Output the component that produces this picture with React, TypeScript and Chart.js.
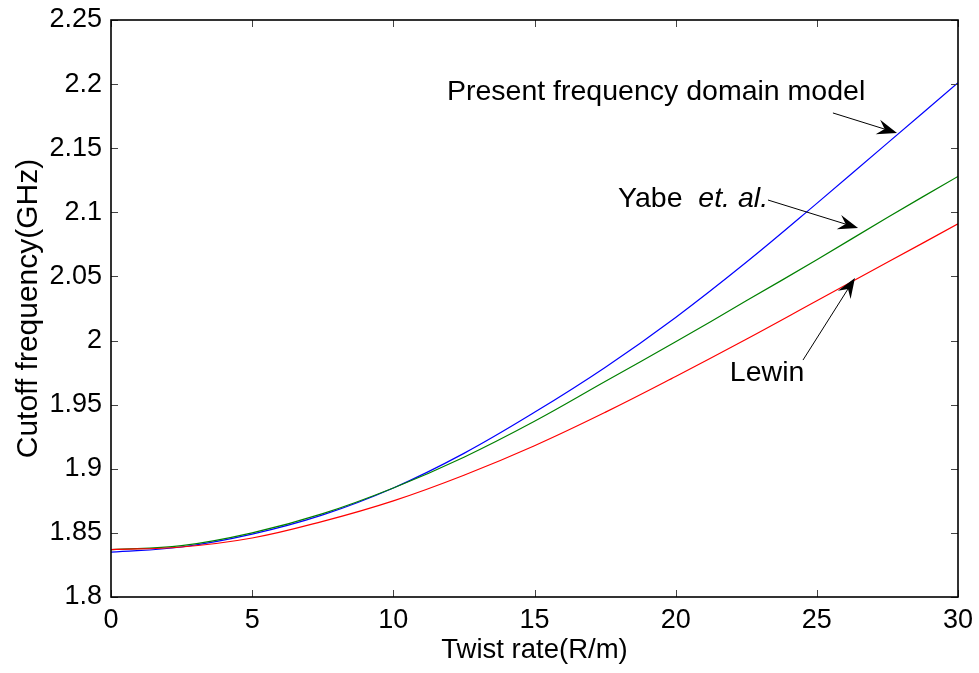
import React, { useEffect, useRef } from "react";
import { Chart, registerables } from "chart.js";

Chart.register(...registerables);

const twistRate = [0, 2.5, 5, 7.5, 10, 12.5, 15, 17.5, 20, 22.5, 25, 27.5, 30];
const presentModel = [1.835, 1.839, 1.849, 1.864, 1.885, 1.912, 1.944, 1.979, 2.018, 2.061, 2.107, 2.154, 2.201];
const yabe = [1.837, 1.84, 1.85, 1.865, 1.885, 1.909, 1.937, 1.968, 1.999, 2.031, 2.063, 2.096, 2.128];
const lewin = [1.837, 1.839, 1.846, 1.859, 1.875, 1.895, 1.918, 1.944, 1.972, 2.001, 2.031, 2.061, 2.091];

const xTicks = [0, 5, 10, 15, 20, 25, 30];
const yTicks = [1.8, 1.85, 1.9, 1.95, 2, 2.05, 2.1, 2.15, 2.2, 2.25];

// annotations in data coordinates
const presentNote = { text: "Present frequency domain model", tx: 11.9, ty: 2.1938, fx: 25.57, fy: 2.1775, ax: 27.84, ay: 2.1619 };
const yabeNote = { text: "Yabe", italic: "et. al.", tx: 17.96, ty: 2.1104, fx: 23.27, fy: 2.1096, ax: 26.46, ay: 2.0878 };
const lewinNote = { text: "Lewin", tx: 21.92, ty: 1.9747, fx: 24.51, fy: 1.9848, ax: 26.35, ay: 2.0488 };

const FONT = "'Liberation Sans', Arial, Helvetica, sans-serif";
const NOTE_SIZE = 28.5;

function toXY(ys: number[]) {
  return twistRate.map((x, i) => ({ x, y: ys[i] }));
}

function drawArrow(ctx: CanvasRenderingContext2D, x1: number, y1: number, x2: number, y2: number) {
  const ang = Math.atan2(y2 - y1, x2 - x1);
  const L = 20;
  const W = 7.5;
  const cos = Math.cos(ang), sin = Math.sin(ang);
  const bx = x2 - L * cos, by = y2 - L * sin;
  const nx = x2 - L * 0.65 * cos, ny = y2 - L * 0.65 * sin;
  ctx.save();
  ctx.strokeStyle = "#000";
  ctx.lineWidth = 1;
  ctx.beginPath();
  ctx.moveTo(x1, y1);
  ctx.lineTo(nx, ny);
  ctx.stroke();
  ctx.fillStyle = "#000";
  ctx.beginPath();
  ctx.moveTo(x2, y2);
  ctx.lineTo(bx - W * sin, by + W * cos);
  ctx.lineTo(nx, ny);
  ctx.lineTo(bx + W * sin, by - W * cos);
  ctx.closePath();
  ctx.fill();
  ctx.restore();
}

const framePlugin = {
  id: "frameAndNotes",
  afterDraw(chart: any) {
    const ctx: CanvasRenderingContext2D = chart.ctx;
    const xs = chart.scales.x;
    const ys = chart.scales.y;
    const { left, right, top, bottom } = chart.chartArea;
    ctx.save();
    ctx.strokeStyle = "#444";
    ctx.lineWidth = 1;
    const tl = 7;
    ctx.beginPath();
    xTicks.forEach((v) => {
      const px = Math.round(xs.getPixelForValue(v)) + 0.5;
      ctx.moveTo(px, bottom);
      ctx.lineTo(px, bottom - tl);
      ctx.moveTo(px, top);
      ctx.lineTo(px, top + tl);
    });
    yTicks.forEach((v) => {
      const py = Math.round(ys.getPixelForValue(v)) + 0.5;
      ctx.moveTo(left, py);
      ctx.lineTo(left + tl, py);
      ctx.moveTo(right, py);
      ctx.lineTo(right - tl, py);
    });
    ctx.stroke();
    ctx.strokeStyle = "#000";
    ctx.lineWidth = 1.6;
    ctx.strokeRect(left, top, right - left, bottom - top);

    ctx.fillStyle = "#000";
    ctx.textBaseline = "middle";
    ctx.textAlign = "left";
    ctx.font = `${NOTE_SIZE}px ${FONT}`;
    const P = (vx: number, vy: number) => [xs.getPixelForValue(vx), ys.getPixelForValue(vy)];

    let [tx, ty] = P(presentNote.tx, presentNote.ty);
    ctx.fillText(presentNote.text, tx, ty);
    let a = P(presentNote.fx, presentNote.fy);
    let b = P(presentNote.ax, presentNote.ay);
    drawArrow(ctx, a[0], a[1], b[0], b[1]);

    [tx, ty] = P(yabeNote.tx, yabeNote.ty);
    ctx.fillText(yabeNote.text, tx, ty);
    const w = ctx.measureText(yabeNote.text + "  ").width;
    ctx.font = `italic ${NOTE_SIZE}px ${FONT}`;
    ctx.fillText(yabeNote.italic, tx + w, ty);
    ctx.font = `${NOTE_SIZE}px ${FONT}`;
    a = P(yabeNote.fx, yabeNote.fy);
    b = P(yabeNote.ax, yabeNote.ay);
    drawArrow(ctx, a[0], a[1], b[0], b[1]);

    [tx, ty] = P(lewinNote.tx, lewinNote.ty);
    ctx.fillText(lewinNote.text, tx, ty);
    a = P(lewinNote.fx, lewinNote.fy);
    b = P(lewinNote.ax, lewinNote.ay);
    drawArrow(ctx, a[0], a[1], b[0], b[1]);
    ctx.restore();
  },
};

export default function App() {
  const ref = useRef<HTMLCanvasElement | null>(null);
  useEffect(() => {
    if (!ref.current) return;
    const common = { pointRadius: 0, borderWidth: 1.2, fill: false, tension: 0.4 };
    const chart = new Chart(ref.current, {
      type: "line",
      data: {
        datasets: [
          { label: "Lewin", data: toXY(lewin), borderColor: "#ff0000", ...common },
          { label: "Yabe et. al.", data: toXY(yabe), borderColor: "#008000", ...common },
          { label: "Present frequency domain model", data: toXY(presentModel), borderColor: "#0000ff", ...common },
        ],
      },
      options: {
        animation: false,
        responsive: false,
        maintainAspectRatio: false,
        layout: { padding: { top: 20, right: 21, left: 0, bottom: 0 } },
        plugins: { legend: { display: false }, tooltip: { enabled: false } },
        scales: {
          x: {
            type: "linear",
            min: 0,
            max: 30,
            afterBuildTicks: (s: any) => { s.ticks = xTicks.map((v) => ({ value: v })); },
            afterFit: (s: any) => { s.height = 76; s.paddingLeft = 0; s.paddingRight = 0; },
            grid: { display: false, drawTicks: false },
            border: { display: false },
            ticks: { color: "#000", font: { size: 27, family: FONT }, padding: 7, maxRotation: 0 },
            title: { display: true, text: "Twist rate(R/m)", color: "#000", font: { size: 27.5, family: FONT }, padding: { top: 0, bottom: 6 } },
          },
          y: {
            type: "linear",
            min: 1.8,
            max: 2.25,
            afterBuildTicks: (s: any) => { s.ticks = yTicks.map((v) => ({ value: v })); },
            afterFit: (s: any) => { s.width = 111; s.paddingTop = 0; s.paddingBottom = 0; },
            grid: { display: false, drawTicks: false },
            border: { display: false },
            ticks: {
              color: "#000",
              font: { size: 27, family: FONT },
              padding: 9,
              callback: (v: any) => String(parseFloat(Number(v).toFixed(2))),
            },
            title: { display: true, text: "Cutoff frequency(GHz)", color: "#000", font: { size: 30, family: FONT }, padding: { top: 11, bottom: 0 } },
          },
        },
      },
      plugins: [framePlugin],
    });
    return () => chart.destroy();
  }, []);
  return (
    <div style={{ position: "absolute", left: 0, top: 0, width: 979, height: 673, background: "#fff" }}>
      <canvas ref={ref} width={979} height={673} style={{ display: "block" }} />
    </div>
  );
}
